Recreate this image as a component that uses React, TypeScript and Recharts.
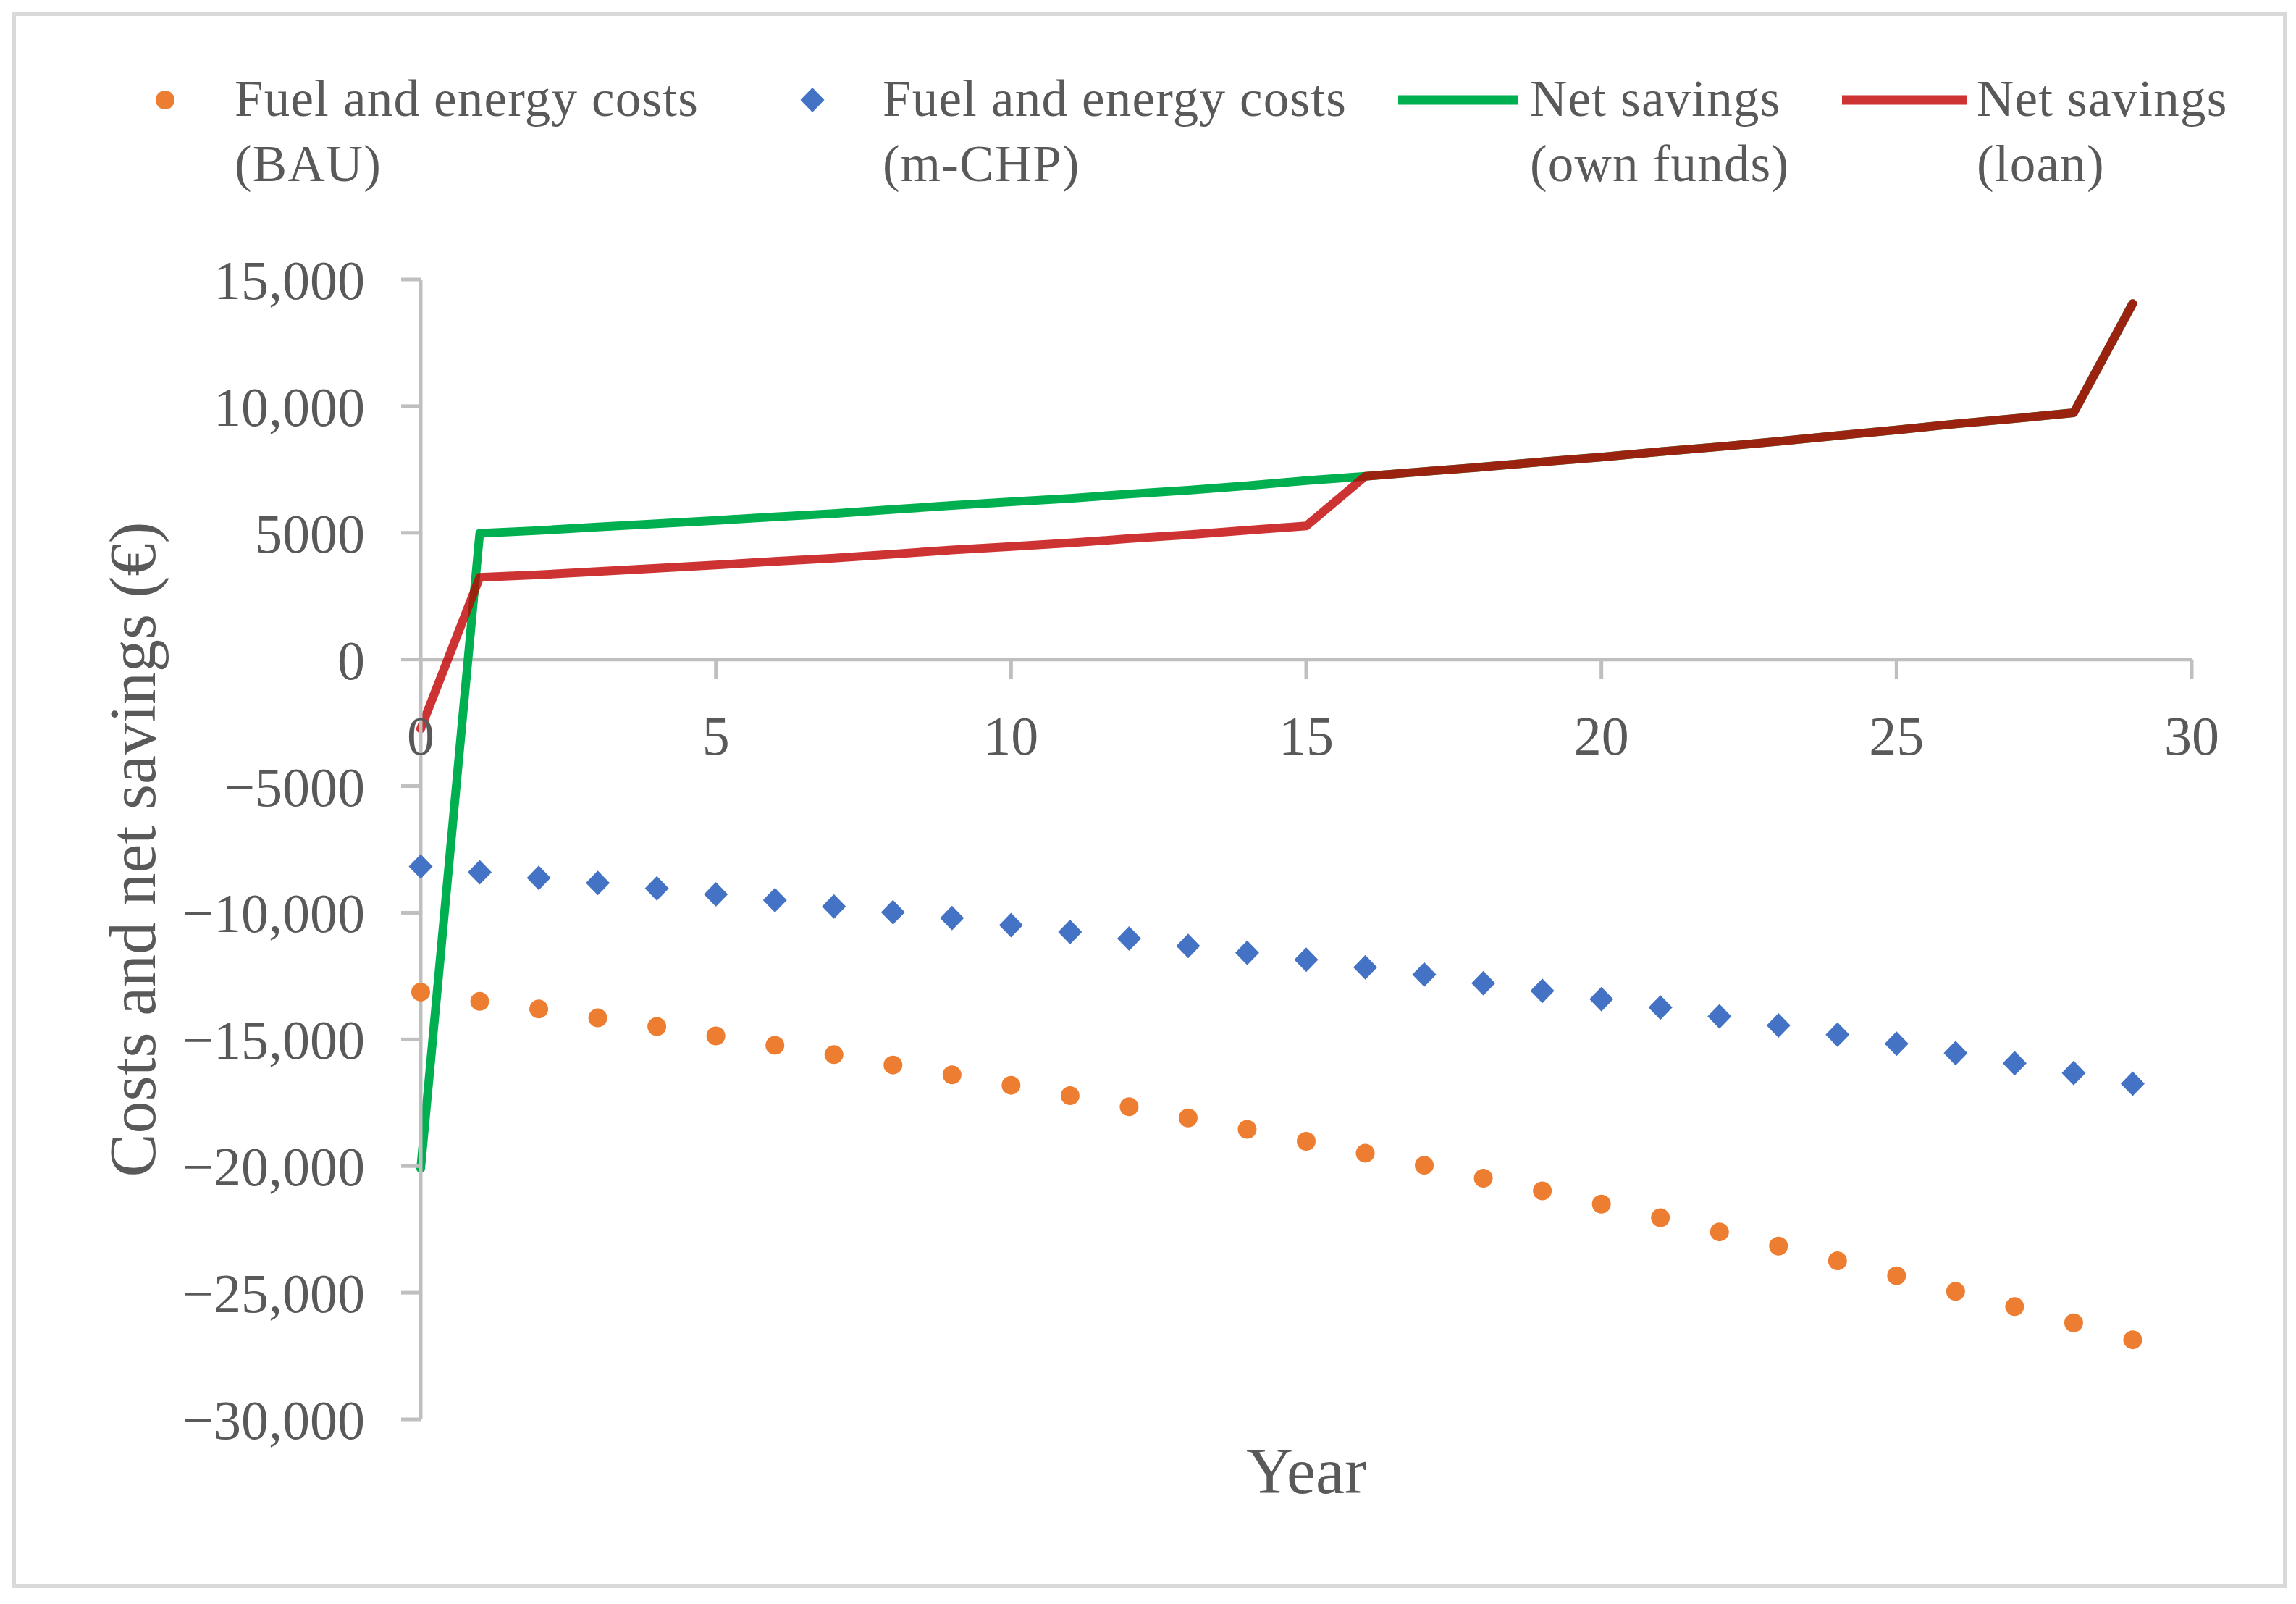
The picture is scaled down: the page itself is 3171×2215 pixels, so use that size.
import React from "react";
import { LineChart, Line, XAxis, YAxis, ReferenceLine, Legend } from "recharts";

// values (€)
const years = [
  0, 1, 2, 3, 4, 5, 6, 7, 8, 9, 10, 11, 12, 13, 14, 15, 16, 17, 18, 19, 20, 21,
  22, 23, 24, 25, 26, 27, 28, 29,
];
const bauCosts = [
  -13130, -13500, -13800, -14150, -14490, -14860, -15230, -15600, -16010,
  -16400, -16810, -17220, -17660, -18100, -18550, -19020, -19490, -19970,
  -20480, -20980, -21500, -22040, -22600, -23160, -23740, -24330, -24950,
  -25550, -26190, -26860,
];
const chpCosts = [
  -8170, -8400, -8620, -8820, -9040, -9270, -9500, -9750, -9980, -10210,
  -10490, -10760, -11020, -11310, -11580, -11850, -12150, -12440, -12780,
  -13080, -13410, -13740, -14090, -14450, -14810, -15170, -15540, -15940,
  -16330, -16750,
];
const netOwnFunds = [
  -20100, 4980, 5090, 5230, 5360, 5490, 5630, 5760, 5920, 6080, 6220, 6360,
  6530, 6680, 6860, 7060, 7230, 7420, 7600, 7800, 7990, 8200, 8400, 8610, 8840,
  9060, 9300, 9510, 9740, 14050,
];
const netLoan = [
  -2740, 3240, 3340, 3470, 3600, 3730, 3870, 4000, 4160, 4320, 4460, 4600, 4770,
  4920, 5100, 5270, 7230, 7420, 7600, 7800, 7990, 8200, 8400, 8610, 8840, 9060,
  9300, 9510, 9740, 14050,
];

const xTicks = [0, 5, 10, 15, 20, 25, 30];
const yTicks = [
  -30000, -25000, -20000, -15000, -10000, -5000, 0, 5000, 10000, 15000,
];
const yTickLabels = [
  "\u221230,000",
  "\u221225,000",
  "\u221220,000",
  "\u221215,000",
  "\u221210,000",
  "\u22125000",
  "0",
  "5000",
  "10,000",
  "15,000",
];

const data = years.map((year, i) => ({
  year,
  bau: bauCosts[i],
  chp: chpCosts[i],
  own: netOwnFunds[i],
  loan: netLoan[i],
}));

const W = 3171;
const H = 2215;
const TOP = 386;
const RIGHT = 144;
const Y_AXIS_W = 581;
const X_AXIS_H = 255;
const Y_MIN = -30000;
const Y_MAX = 15000;
const PLOT_H = H - TOP - X_AXIS_H;
// x axis crosses at y = 0, not at the bottom of the plot
const ZERO_RISE = (PLOT_H * (0 - Y_MIN)) / (Y_MAX - Y_MIN);

const FONT = "'Liberation Serif', 'DejaVu Serif', serif";
const TEXT = "#595959";
const AXIS = "#BFBFBF";
const ORANGE = "#ED7D31";
const BLUE = "#4472C4";
const GREEN = "#00B050";
const RED = "#C00000";

function XTick({ x, y, payload }: any) {
  const y0 = y - ZERO_RISE;
  return (
    <g>
      <line x1={x} x2={x} y1={y0} y2={y0 + 27} stroke={AXIS} strokeWidth={5} />
      <text
        x={x}
        y={y0 + 131}
        textAnchor="middle"
        fill={TEXT}
        fontSize={76}
        fontFamily={FONT}
      >
        {payload.value}
      </text>
    </g>
  );
}

function Diamond({ cx, cy }: any) {
  if (cx == null || cy == null) return null;
  return (
    <path
      d={`M${cx},${cy - 17}L${cx + 16.5},${cy}L${cx},${cy + 17}L${cx - 16.5},${cy}Z`}
      fill={BLUE}
    />
  );
}

function YTitle(props: any) {
  const vb = props.viewBox;
  const x = vb.x + 214;
  const y = vb.y + vb.height / 2;
  return (
    <text
      x={x}
      y={y}
      transform={`rotate(-90 ${x} ${y})`}
      textAnchor="middle"
      fill={TEXT}
      fontSize={90}
      fontFamily={FONT}
    >
      Costs and net savings (€)
    </text>
  );
}

function XTitle(props: any) {
  const vb = props.viewBox;
  return (
    <text
      x={vb.x + vb.width / 2}
      y={vb.y + 102}
      textAnchor="middle"
      fill={TEXT}
      fontSize={90}
      fontFamily={FONT}
    >
      Year
    </text>
  );
}

function LegendBlock() {
  const line1 = 160;
  const line2 = 250;
  const mid = 138;
  const txt = (x: number, a: string, b: string) => (
    <text fill={TEXT} fontSize={71} fontFamily={FONT} letterSpacing={1.2}>
      <tspan x={x} y={line1}>
        {a}
      </tspan>
      <tspan x={x} y={line2}>
        {b}
      </tspan>
    </text>
  );
  return (
    <svg width={W} height={300}>
      <circle cx={228} cy={mid} r={13} fill={ORANGE} />
      {txt(324, "Fuel and energy costs", "(BAU)")}
      <Diamond cx={1122} cy={mid} />
      {txt(1219, "Fuel and energy costs", "(m-CHP)")}
      <line x1={1931} x2={2097} y1={mid} y2={mid} stroke={GREEN} strokeWidth={13} />
      {txt(2113, "Net savings", "(own funds)")}
      <line
        x1={2544}
        x2={2716}
        y1={mid}
        y2={mid}
        stroke={RED}
        strokeOpacity={0.8}
        strokeWidth={13}
      />
      {txt(2730, "Net savings", "(loan)")}
    </svg>
  );
}

export default function App() {
  return (
    <div
      style={{
        position: "absolute",
        left: 0,
        top: 0,
        width: W,
        height: H,
        background: "#fff",
      }}
    >
      <div
        style={{
          position: "absolute",
          left: 17,
          top: 17,
          width: 3141,
          height: 2176,
          border: "5px solid #D9D9D9",
          boxSizing: "border-box",
        }}
      />
      <div style={{ position: "absolute", left: 0, top: 0 }}>
        <LineChart
          width={W}
          height={H}
          data={data}
          margin={{ top: TOP, right: RIGHT, bottom: 0, left: 0 }}
        >
          <XAxis
            type="number"
            dataKey="year"
            domain={[0, 30]}
            ticks={xTicks}
            height={X_AXIS_H}
            axisLine={false}
            tickLine={false}
            tickSize={0}
            tickMargin={0}
            tick={<XTick />}
            label={XTitle}
          />
          <YAxis
            type="number"
            domain={[Y_MIN, Y_MAX]}
            ticks={yTicks}
            width={Y_AXIS_W}
            interval={0}
            tickSize={27}
            tickMargin={50}
            axisLine={{ stroke: AXIS, strokeWidth: 5 }}
            tickLine={{ stroke: AXIS, strokeWidth: 5 }}
            tick={{ fill: TEXT, fontSize: 76, fontFamily: FONT }}
            tickFormatter={(v: number) => yTickLabels[yTicks.indexOf(v)]}
            label={YTitle}
          />
          <ReferenceLine y={0} stroke={AXIS} strokeWidth={5} />
          <Legend
            layout="vertical"
            align="center"
            verticalAlign="middle"
            wrapperStyle={{ top: 0, left: 0, width: W, height: 300 }}
            content={() => <LegendBlock />}
          />
          <Line
            dataKey="bau"
            name="Fuel and energy costs (BAU)"
            stroke="none"
            strokeWidth={0}
            dot={{ r: 13, fill: ORANGE, stroke: "none" }}
            activeDot={false}
            isAnimationActive={false}
          />
          <Line
            dataKey="chp"
            name="Fuel and energy costs (m-CHP)"
            stroke="none"
            strokeWidth={0}
            dot={<Diamond />}
            activeDot={false}
            isAnimationActive={false}
          />
          <Line
            dataKey="own"
            name="Net savings (own funds)"
            type="linear"
            stroke={GREEN}
            strokeWidth={12}
            strokeLinejoin="round"
            strokeLinecap="round"
            dot={false}
            activeDot={false}
            isAnimationActive={false}
          />
          <Line
            dataKey="loan"
            name="Net savings (loan)"
            type="linear"
            stroke={RED}
            strokeOpacity={0.8}
            strokeWidth={12}
            strokeLinejoin="round"
            strokeLinecap="round"
            dot={false}
            activeDot={false}
            isAnimationActive={false}
          />
        </LineChart>
      </div>
    </div>
  );
}
